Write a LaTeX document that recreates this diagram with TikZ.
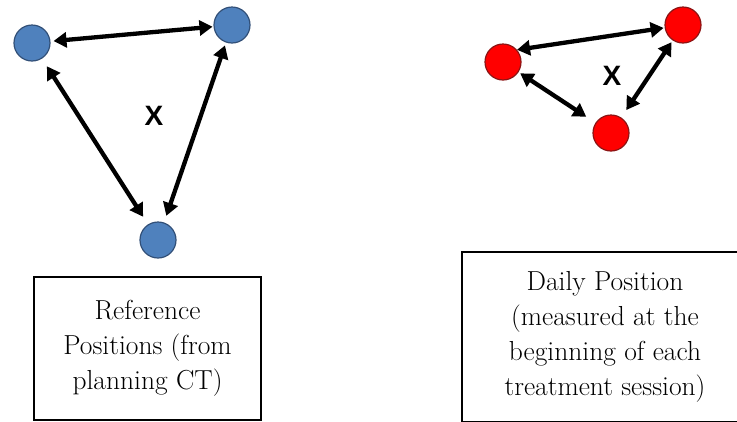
\documentclass[tikz,border=0pt]{standalone}
\usepackage{fontspec}
\usepackage{tikz}
\usetikzlibrary{arrows.meta}
\newfontfamily\xfont{Liberation Sans}
\definecolor{refblue}{RGB}{79,129,189}
\definecolor{refedge}{RGB}{50,80,120}
\definecolor{dayred}{RGB}{255,0,0}
\definecolor{dayedge}{RGB}{140,20,20}

\begin{document}
\begin{tikzpicture}[x=1pt,y=-1pt,
	refpt/.style={circle,draw=refedge,fill=refblue,line width=1.2pt,minimum size=36pt,inner sep=0pt},
	daypt/.style={circle,draw=dayedge,fill=dayred,line width=1.2pt,minimum size=36pt,inner sep=0pt},
	both/.style={{Triangle[length=13pt,width=15pt]}-{Triangle[length=13pt,width=15pt]},line width=4.3pt},
	xmark/.style={font=\xfont\bfseries\fontsize{28}{28}\selectfont},
	caption/.style={draw,line width=1.3pt,align=center,inner sep=0pt,font=\fontsize{27.5}{35}\selectfont}]
	\clip (0,0) rectangle (737,421);
	\node[refpt] (ra) at (32,43) {};
	\node[refpt] (rb) at (232,25) {};
	\node[refpt] (rc) at (158,240) {};
	\node[xmark] (rx) at (154,116) {X};
	\draw[both,shorten <=3pt,shorten >=1pt] (ra) -- (rb);
	\draw[both,shorten <=9pt,shorten >=9pt] (ra) -- (rc);
	\draw[both,shorten <=3pt,shorten >=7pt] (rb) -- (rc);
	\node[caption,minimum width=227pt,minimum height=143pt] (rbox) at (147.5,348.5)
		{Reference\\Positions (from\\planning CT)};
	\node[daypt] (da) at (503,62) {};
	\node[daypt] (db) at (683,25) {};
	\node[daypt] (dc) at (611,133) {};
	\node[xmark] (dx) at (612,76) {X};
	\draw[both,shorten >=1pt] (da.41) -- (db);
	\draw[both,shorten <=2pt,shorten >=11pt] (da) -- (dc);
	\draw[both,shorten <=9pt,shorten >=2pt] (dc) -- (db);
	\node[caption,minimum width=286pt,minimum height=170pt] (dbox) at (605,337)
		{Daily Position\\(measured at the\\beginning of each\\treatment session)};
\end{tikzpicture}
\end{document}
